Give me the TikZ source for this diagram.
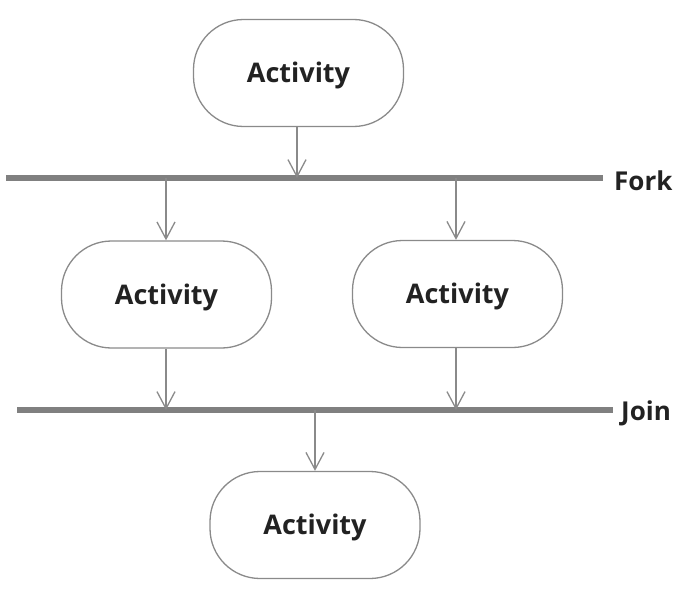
\documentclass[tikz,border=0pt]{standalone}
\usepackage{fontspec}
\setmainfont{Open Sans}
\usetikzlibrary{arrows.meta}
\definecolor{bargray}{HTML}{808080}
\definecolor{linegray}{HTML}{8A8A8A}
\definecolor{txt}{HTML}{222222}
\tikzset{
  act/.style={draw=linegray, line width=1.3pt, rounded corners=50pt, minimum width=210pt, minimum height=107pt, inner sep=0pt, font=\fontsize{27}{32}\selectfont\bfseries, text=txt, text height=19pt, text depth=0pt},
  bar/.style={fill=bargray, draw=none, minimum height=6.5pt, inner sep=0pt},
  flow/.style={draw=linegray, line width=1.3pt, -{Straight Barb[length=17pt,width=18pt,line width=1.3pt]}},
  lbl/.style={font=\fontsize{26}{30}\selectfont\bfseries, text=txt, inner sep=0pt, anchor=west}
}
\begin{document}
\begin{tikzpicture}[x=1pt,y=-1pt]
\useasboundingbox (0,0) rectangle (688,594);
\node[act] (a1) at (298.5,73) {Activity};
\node[bar, minimum width=597pt] (fork) at (304.5,178) {};
\node[lbl] (forkl) at (614,181) {Fork};
\node[act] (a2) at (166.5,294.5) {Activity};
\node[act] (a3) at (457.5,294) {Activity};
\node[bar, minimum width=596pt] (join) at (315,410) {};
\node[lbl] (joinl) at (621,413) {Join};
\node[act] (a4) at (315,525) {Activity};
\coordinate (f1) at (297,178);
\coordinate (f2) at (166,178);
\coordinate (f3) at (456,178);
\coordinate (j1) at (166,410);
\coordinate (j2) at (456,410);
\coordinate (j3) at (315,410);
\draw[flow] (a1.south -| f1) -- (f1);
\draw[flow] (f2) -- (a2.north -| f2);
\draw[flow] (f3) -- (a3.north -| f3);
\draw[flow] (a2.south -| j1) -- (j1);
\draw[flow] (a3.south -| j2) -- (j2);
\draw[flow] (j3) -- (a4.north -| j3);
\end{tikzpicture}
\end{document}
